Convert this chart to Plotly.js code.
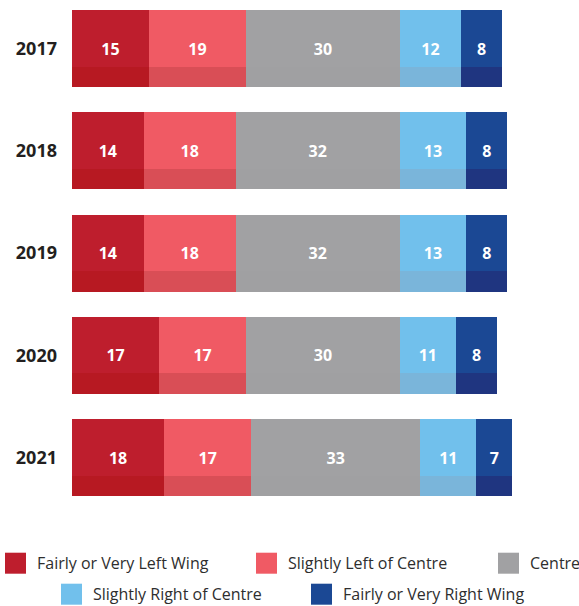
<!DOCTYPE html>
<html>
<head>
<meta charset="utf-8">
<script src="https://cdn.plot.ly/plotly-3.0.1.min.js"></script>
<style>
html,body{margin:0;padding:0;background:#fff;}
#chart{width:579px;height:606px;}
</style>
</head>
<body>
<div id="chart"></div>
<script>
// ---- data ----
const years = ["2017", "2018", "2019", "2020", "2021"];
const seriesNames = ["Fairly or Very Left Wing", "Slightly Left of Centre", "Centre", "Slightly Right of Centre", "Fairly or Very Right Wing"];
const leftWing      = [15, 14, 14, 17, 18];
const slightlyLeft  = [19, 18, 18, 17, 17];
const centre        = [30, 32, 32, 30, 33];
const slightlyRight = [12, 13, 13, 11, 11];
const rightWing     = [8, 8, 8, 8, 7];

// ---- styles ----
const mainColors  = ["#BE1E2D", "#F05A64", "#A1A1A3", "#71C0EC", "#1B4894"];
const stripColors = ["#B71922", "#D94E56", "#A0A0A2", "#7AB5DA", "#1F3580"];
const FONT = "Open Sans, sans-serif";

const W = 579, H = 606;
const M = {l: 72, r: 0, t: 0, b: 95};
const plotW = W - M.l - M.r, plotH = H - M.t - M.b;
const pxPerUnit = 5.12;
const pitch = 102.25;          // px between category centers
const firstCenter = 48.5;      // px from top of plot
const barPx = 77, stripPx = 20.5;

const series = [leftWing, slightlyLeft, centre, slightlyRight, rightWing];
const bases = [];
let run = years.map(() => 0);
series.forEach(s => { bases.push(run.slice()); run = run.map((v, i) => v + s[i]); });

const barW = barPx / pitch;
const stripW = stripPx / pitch;
const traces = [];
series.forEach((s, k) => {
  traces.push({
    type: "bar", orientation: "h", y: years, x: s, base: bases[k],
    width: barW, name: seriesNames[k],
    marker: {color: mainColors[k], line: {width: 0}},
    text: s.map(String), texttemplate: "%{text}", textposition: "inside",
    insidetextanchor: "middle", textangle: 0, constraintext: "none",
    textfont: {family: FONT, size: 16, color: "#ffffff", weight: 700},
    hoverinfo: "skip", showlegend: false
  });
});
series.forEach((s, k) => {
  traces.push({
    type: "bar", orientation: "h", y: years, x: s, base: bases[k],
    width: stripW, offset: barW / 2 - stripW,
    marker: {color: stripColors[k], line: {width: 0}},
    hoverinfo: "skip", showlegend: false
  });
});

// legend built in layout (pixel positions -> paper)
const px2x = px => (px - M.l) / plotW;
const py2y = py => (M.t + plotH - py) / plotH;
const legendItems = [
  {k: 0, x: 5,   y: 563.2},
  {k: 1, x: 256, y: 563.2},
  {k: 2, x: 498, y: 563.2},
  {k: 3, x: 61,  y: 594.2},
  {k: 4, x: 311, y: 594.2}
];
const sw = 21;
const shapes = legendItems.map(it => ({
  type: "rect", xref: "paper", yref: "paper",
  x0: px2x(it.x), x1: px2x(it.x + sw),
  y0: py2y(it.y - sw / 2), y1: py2y(it.y + sw / 2),
  fillcolor: mainColors[it.k], line: {width: 0}, layer: "above"
}));
const annotations = legendItems.map(it => ({
  xref: "paper", yref: "paper", x: px2x(it.x + 31), y: py2y(it.y),
  xanchor: "left", yanchor: "middle", showarrow: false,
  text: seriesNames[it.k], borderpad: 0,
  font: {family: FONT, size: 16, color: "#2E2E2E"}
}));

const layout = {
  width: W, height: H,
  margin: M,
  paper_bgcolor: "#ffffff", plot_bgcolor: "#ffffff",
  barmode: "overlay",
  bargap: 0,
  showlegend: false,
  xaxis: {range: [0, plotW / pxPerUnit], visible: false, fixedrange: true},
  yaxis: {
    type: "category", categoryorder: "array", categoryarray: years,
    range: [(plotH - firstCenter) / pitch, -firstCenter / pitch],
    showgrid: false, zeroline: false, showline: false, ticks: "",
    ticklabelstandoff: 14,
    tickfont: {family: FONT, size: 18, color: "#231F20", weight: 700},
    fixedrange: true
  },
  shapes: shapes,
  annotations: annotations
};

Plotly.newPlot("chart", traces, layout, {displayModeBar: false, staticPlot: true});
</script>
</body>
</html>
